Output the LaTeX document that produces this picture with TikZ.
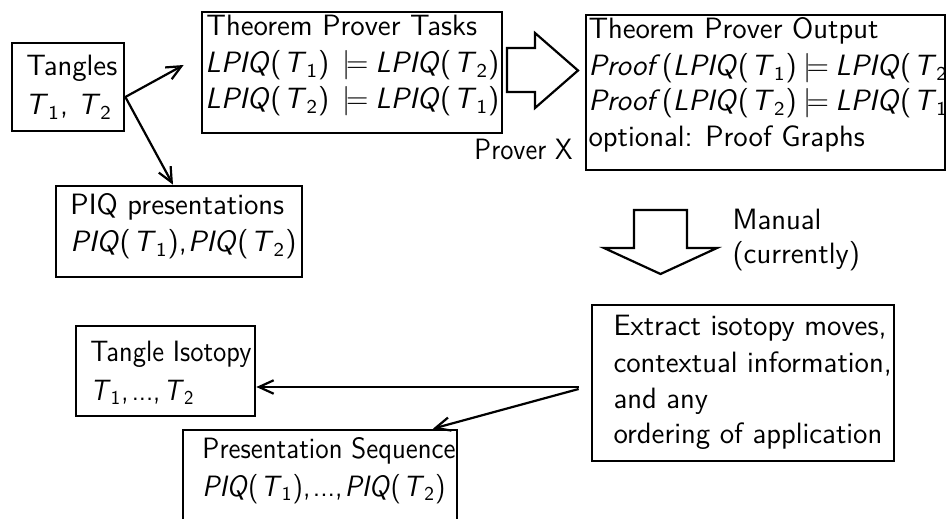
\documentclass[tikz,border=0pt]{standalone}
\usepackage{graphicx}
\usetikzlibrary{fit,calc,arrows.meta}
\newcommand\mi[1]{\textit{#1}}
\newcommand\Tn[1]{\textit{T}\textsubscript{#1}}
\newcommand\Lp[1]{\mi{LPIQ}(\kern0.9pt\Tn{#1})}
\newcommand\Pq[1]{\mi{PIQ}(\kern0.9pt\Tn{#1})}
\newcommand\mdl{\kern2.6pt$\models$\kern2.6pt}
\newcommand\mdlA{\kern5.5pt$\models$\kern2.8pt}
% set a text to a width given in picture pixels, keeping its height
\newcommand\fitw[2]{\resizebox{\dimexpr 0.408pt*#1\relax}{\height}{#2}}
\begin{document}
\begin{tikzpicture}[x=0.408pt,y=-0.408pt,
  box/.style={draw, line width=1.1pt, inner sep=0pt},
  txt/.style={anchor=base west, inner sep=0pt, font=\sffamily\fontsize{12}{14}\selectfont},
  conn/.style={line width=0.9pt, -{Straight Barb[length=6pt,width=5.5pt]}},
  blockarrow/.style={draw, line width=0.9pt, line join=miter}]
\useasboundingbox (0,0) rectangle (948,519);
% boxes
\node[box, fit={(12,43) (124,131)}] (tangles) {};
\node[box, fit={(202,12) (502,133)}] (tasks) {};
\node[box, fit={(586,15) (945,170)}] (output) {};
\node[box, fit={(56,186) (302,277)}] (piq) {};
\node[box, fit={(592,305) (894,461)}] (extract) {};
\node[box, fit={(76,326) (255,416)}] (iso) {};
\node[box, fit={(183,430) (457,540)}] (pres) {};
% texts
\node[txt] (tanA) at (26,76) {Tangles};
\node[txt] (tanB) at (25,115) {\Tn1, \Tn2};
\node[txt] (tskA) at (206,36) {Theorem Prover Tasks};
\node[txt] (tskB) at (205,73) {\Lp1\mdlA\Lp2};
\node[txt] (tskC) at (205,109) {\Lp2\mdlA\Lp1};
\node[txt] (outA) at (588,39) {Theorem Prover Output};
\node[txt] (outB) at (588,76) {\mi{Proof}\kern0.5pt(\Lp1\mdl\Lp2)};
\node[txt] (outC) at (588,111) {\mi{Proof}\kern0.5pt(\Lp2\mdl\Lp1)};
\node[txt] (outD) at (588,147) {optional: Proof Graphs};
\node[txt] (piqA) at (70,215) {PIQ presentations};
\node[txt] (piqB) at (70,252) {\Pq1,\kern0.5pt\Pq2};
\node[txt] (isoA) at (90,362) {\fitw{161}{Tangle Isotopy}};
\node[txt] (isoB) at (90,400) {\fitw{104}{\Tn1,\kern1.5pt...,\kern1.5pt\Tn2}};
\node[txt] (preA) at (202,458) {\fitw{253}{Presentation Sequence}};
\node[txt] (preB) at (202,496) {\fitw{243}{\Pq1,\kern1pt...,\kern1pt\Pq2}};
\node[txt] (extA) at (613,335) {Extract isotopy moves,};
\node[txt] (extB) at (613,372) {contextual information,};
\node[txt] (extC) at (613,408) {and any};
\node[txt] (extD) at (613,443) {ordering of application};
\node[txt] (manA) at (732,230) {Manual};
\node[txt] (manB) at (732,264) {(currently)};
\node[txt] (prover) at (474,160) {\fitw{98}{Prover X}};
% block arrows
\draw[blockarrow] (507,48) -- (535,48) -- (535,33) -- (578,70.5) -- (535,108) -- (535,92) -- (507,92) -- cycle;
\draw[blockarrow] (634,210) -- (687,210) -- (687,248) -- (717,248) -- (660.5,274) -- (604,248) -- (634,248) -- cycle;
% connectors
\draw[conn] ($(tangles.east)+(0,10)$) -- ($(tasks.west)+(-17,-7.5)$);
\draw[conn] ($(tangles.east)+(0,10)$) -- ($(piq.north)+(-6,0)$);
\draw[conn] ($(extract.west)+(-12,4)$) -- ($(iso.east)+(0,16)$);
\draw[conn] ($(extract.west)+(-12,6)$) -- ($(pres.north)+(113,0)$);
\end{tikzpicture}
\end{document}
